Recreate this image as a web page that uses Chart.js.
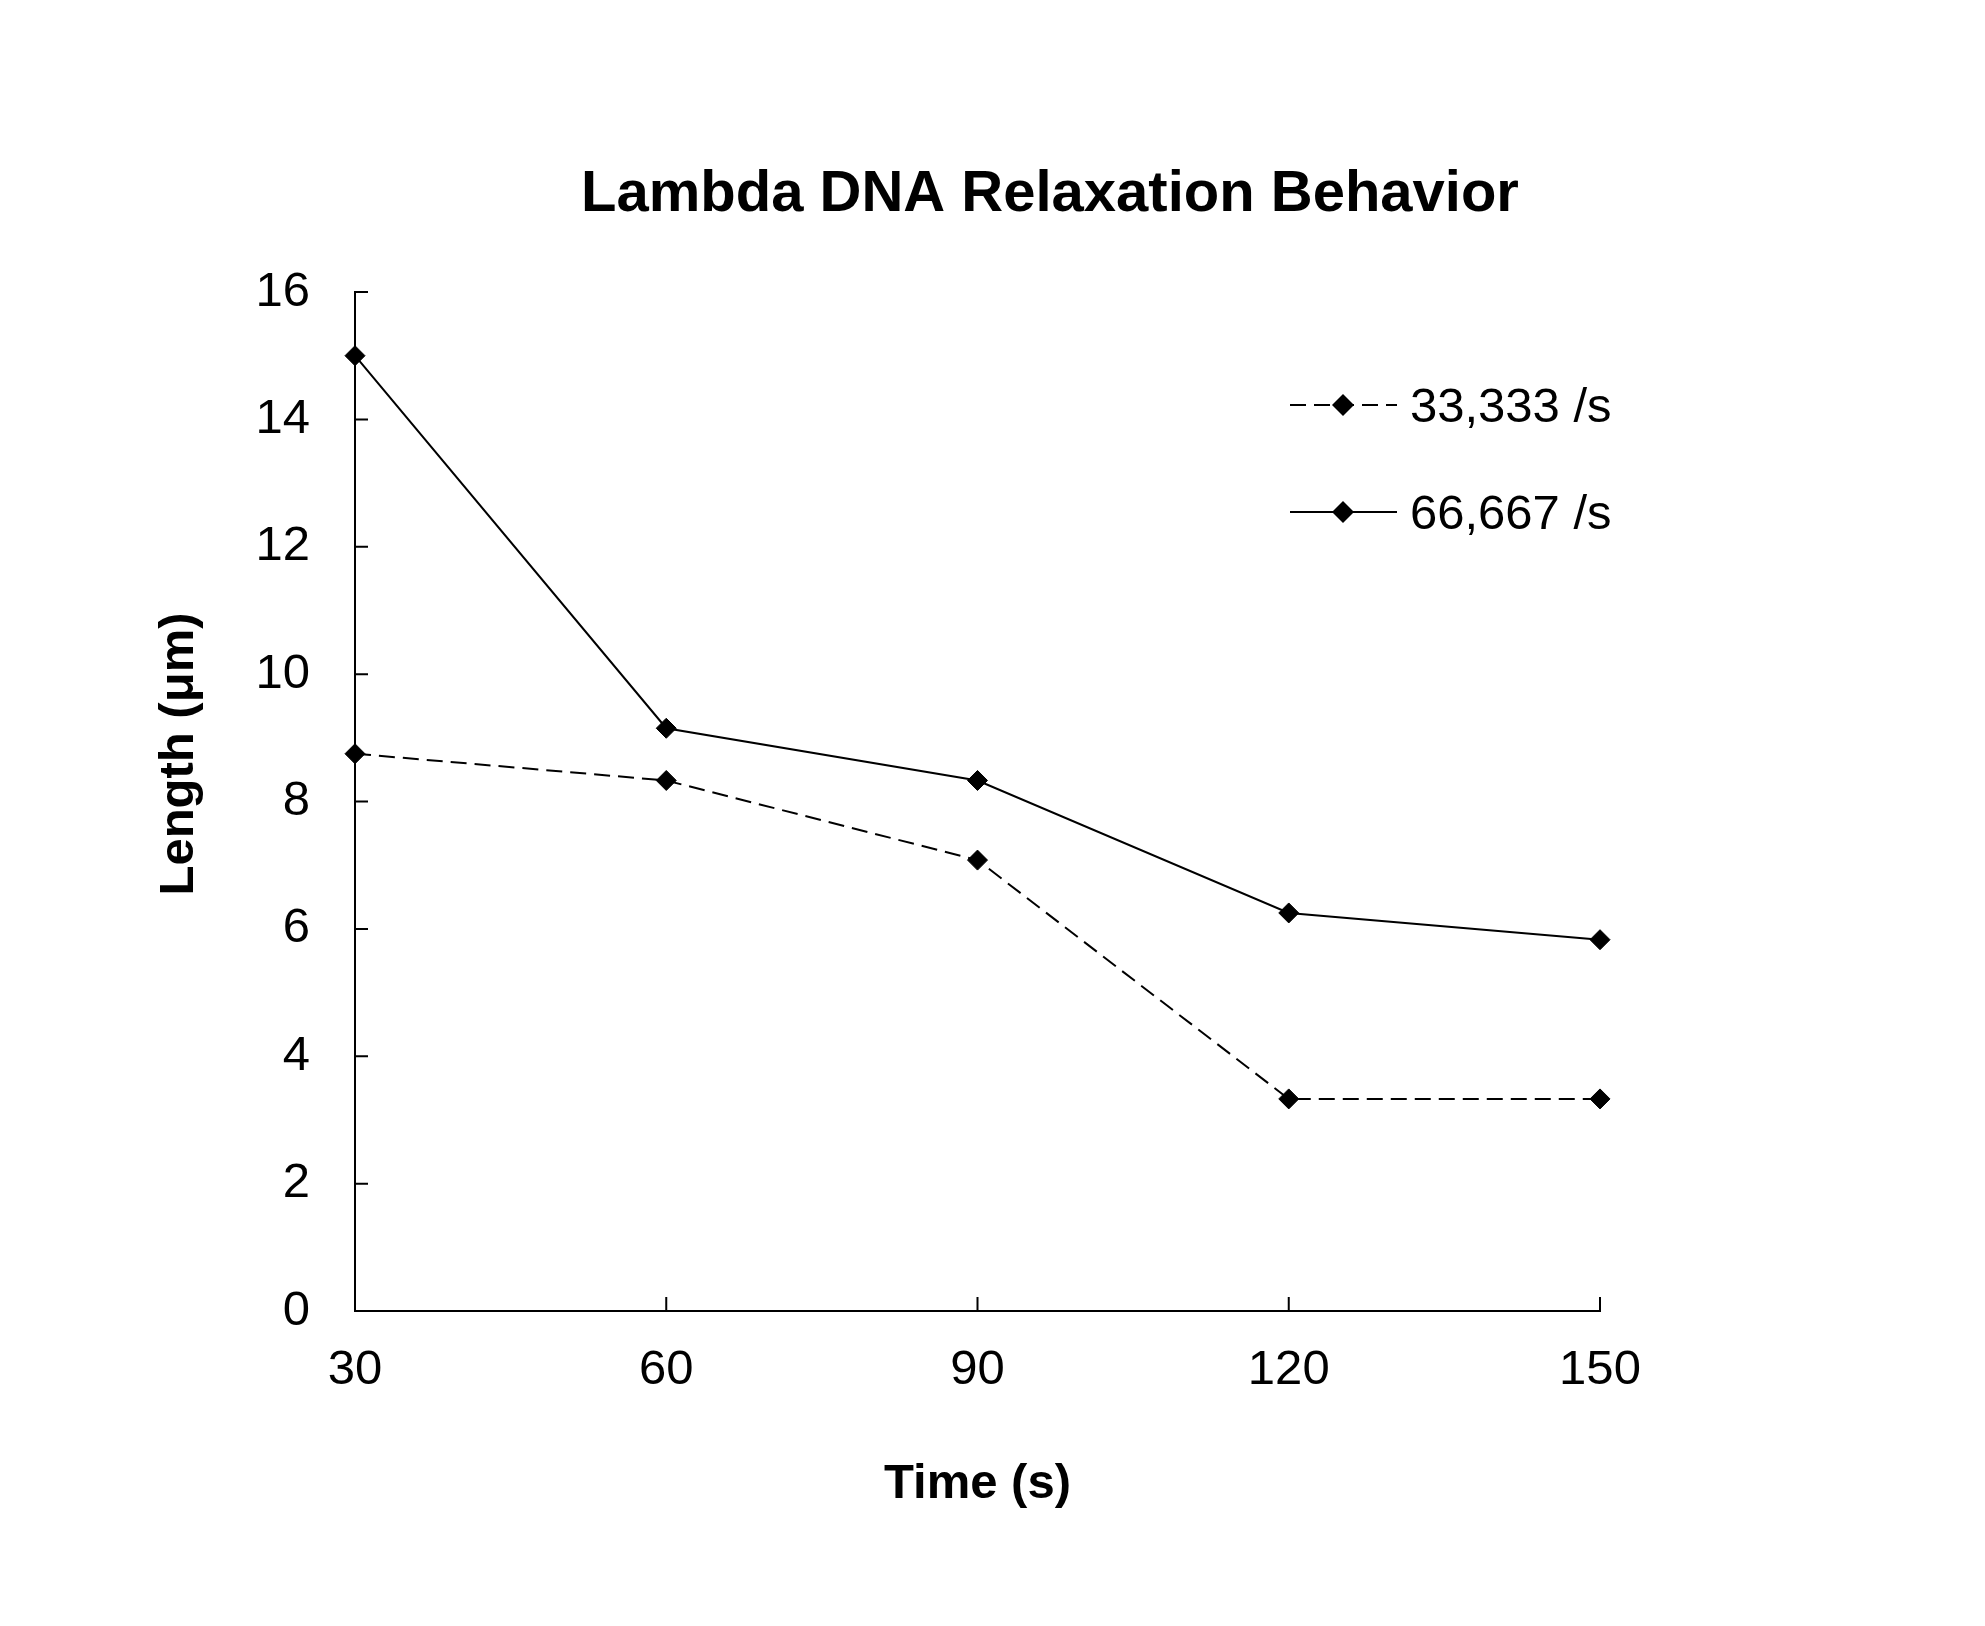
<!DOCTYPE html>
<html>
<head>
<meta charset="utf-8">
<script src="https://cdn.jsdelivr.net/npm/chart.js@4.4.0/dist/chart.umd.min.js"></script>
<style>
  html, body { margin: 0; padding: 0; background: #fff; }
  #wrap { width: 1985px; height: 1626px; }
</style>
</head>
<body>
<div id="wrap"><canvas id="chart" width="1985" height="1626"></canvas></div>
<script>
const times = [30, 60, 90, 120, 150];
const slowRate = [8.75, 8.33, 7.08, 3.33, 3.33];     // 33,333 /s
const fastRate = [15.0, 9.15, 8.33, 6.25, 5.83];     // 66,667 /s
const seriesNames = ['33,333 /s', '66,667 /s'];
const xTicks = [30, 60, 90, 120, 150];
const yTicks = [0, 2, 4, 6, 8, 10, 12, 14, 16];

const FONT = "'Liberation Sans', Arial, sans-serif";

function toPoints(ys) {
    return times.map((t, i) => ({ x: t, y: ys[i] }));
}

// inward tick marks, titles and the in-plot legend
const decorations = {
    id: 'decorations',
    afterDraw(chart) {
        const ctx = chart.ctx;
        const x = chart.scales.x;
        const y = chart.scales.y;
        const area = chart.chartArea;

        ctx.save();
        ctx.strokeStyle = '#000';
        ctx.lineWidth = 2;
        ctx.beginPath();
        xTicks.forEach(v => {
            const px = x.getPixelForValue(v);
            ctx.moveTo(px, area.bottom);
            ctx.lineTo(px, area.bottom - 14);
        });
        yTicks.forEach(v => {
            const py = y.getPixelForValue(v);
            ctx.moveTo(area.left, py);
            ctx.lineTo(area.left + 13, py);
        });
        ctx.stroke();

        // chart title
        ctx.fillStyle = '#000';
        ctx.font = 'bold 58px ' + FONT;
        ctx.textAlign = 'center';
        ctx.textBaseline = 'alphabetic';
        ctx.fillText('Lambda DNA Relaxation Behavior', 1050, 211);

        // y axis title
        ctx.save();
        ctx.translate(193, 754);
        ctx.rotate(-Math.PI / 2);
        ctx.font = 'bold 49px ' + FONT;
        ctx.fillText('Length (μm)', 0, 0);
        ctx.restore();

        // legend
        const rows = [405, 512];
        chart.data.datasets.forEach((ds, i) => {
            const ly = rows[i];
            ctx.save();
            ctx.lineWidth = ds.borderWidth;
            ctx.setLineDash(ds.borderDash || []);
            ctx.beginPath();
            ctx.moveTo(1290, ly);
            ctx.lineTo(1397, ly);
            ctx.stroke();
            ctx.restore();
            ctx.beginPath();
            ctx.moveTo(1343, ly - 11);
            ctx.lineTo(1354, ly);
            ctx.lineTo(1343, ly + 11);
            ctx.lineTo(1332, ly);
            ctx.closePath();
            ctx.fill();
            ctx.font = '49px ' + FONT;
            ctx.textAlign = 'left';
            ctx.textBaseline = 'alphabetic';
            ctx.fillText(ds.label, 1410, ly + 17);
        });
        ctx.restore();
    }
};

const config = {
    type: 'line',
    data: {
        datasets: [
            {
                label: seriesNames[0],
                data: toPoints(slowRate),
                borderColor: '#000',
                backgroundColor: '#000',
                borderWidth: 2,
                borderDash: [16, 8],
                pointStyle: 'rectRot',
                pointRadius: 10,
                pointBorderWidth: 1,
                pointBackgroundColor: '#000',
                pointBorderColor: '#000',
                tension: 0,
                clip: false,
            },
            {
                label: seriesNames[1],
                data: toPoints(fastRate),
                borderColor: '#000',
                backgroundColor: '#000',
                borderWidth: 2,
                pointStyle: 'rectRot',
                pointRadius: 10,
                pointBorderWidth: 1,
                pointBackgroundColor: '#000',
                pointBorderColor: '#000',
                tension: 0,
                clip: false,
            },
        ]
    },
    options: {
        responsive: false,
        animation: false,
        devicePixelRatio: 1,
        layout: { padding: { left: 0, top: 292, right: 385, bottom: 0 } },
        plugins: {
            legend: { display: false },
            title: { display: false },
            tooltip: { enabled: false },
        },
        scales: {
            x: {
                type: 'linear',
                min: 30,
                max: 150,
                afterBuildTicks: (s) => { s.ticks = xTicks.map(v => ({ value: v })); },
                afterFit: (s) => { s.height = 315; },
                ticks: {
                    color: '#000',
                    font: { family: FONT, size: 49 },
                    padding: 30,
                    maxRotation: 0,
                },
                grid: { drawOnChartArea: false, drawTicks: false },
                border: { color: '#000', width: 2 },
                title: {
                    display: true,
                    text: 'Time (s)',
                    color: '#000',
                    font: { family: FONT, size: 49, weight: 'bold' },
                    padding: { top: 0, bottom: 112 },
                },
            },
            y: {
                min: 0,
                max: 16,
                afterBuildTicks: (s) => { s.ticks = yTicks.map(v => ({ value: v })); },
                afterFit: (s) => { s.width = 355; },
                ticks: {
                    color: '#000',
                    font: { family: FONT, size: 49 },
                    padding: 45,
                },
                grid: { drawOnChartArea: false, drawTicks: false },
                border: { color: '#000', width: 2 },
            },
        },
    },
    plugins: [decorations],
};

new Chart(document.getElementById('chart'), config);
</script>
</body>
</html>
